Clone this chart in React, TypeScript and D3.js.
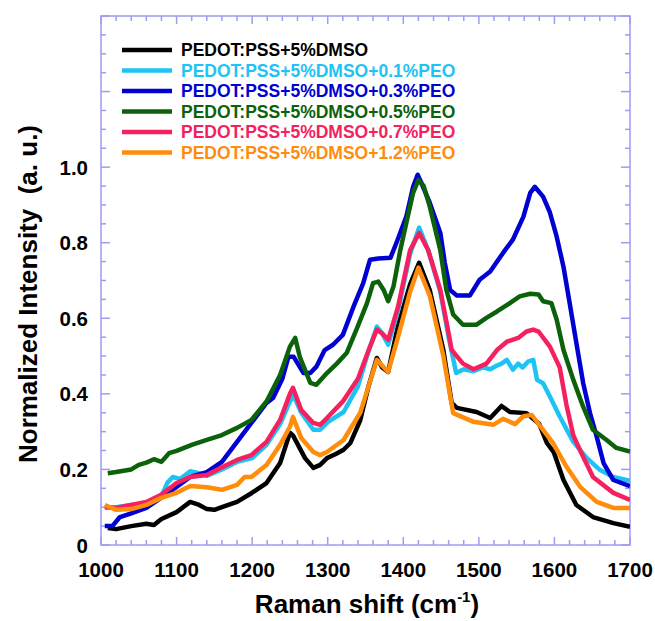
import React from "react";
import * as d3 from "d3";

// ---- data (Raman shift in cm^-1, normalized intensity) ----
const seriesNames = [
  "PEDOT:PSS+5%DMSO",
  "PEDOT:PSS+5%DMSO+0.1%PEO",
  "PEDOT:PSS+5%DMSO+0.3%PEO",
  "PEDOT:PSS+5%DMSO+0.5%PEO",
  "PEDOT:PSS+5%DMSO+0.7%PEO",
  "PEDOT:PSS+5%DMSO+1.2%PEO",
];
const seriesColors = ["#000000", "#1ec3f5", "#0000d2", "#0b620b", "#f5215e", "#ff8c0a"];

const blackX = [1009,1020,1040,1060,1070,1080,1100,1118,1130,1140,1150,1160,1180,1199,1219,1237,1250,1254,1270,1281,1290,1299,1310,1321,1330,1343,1354,1365,1372,1380,1393,1409,1421,1435,1453,1464,1471,1497,1515,1530,1541,1563,1580,1590,1599,1612,1629,1651,1678,1700];
const blackY = [0.045,0.042,0.05,0.056,0.053,0.069,0.087,0.114,0.106,0.095,0.093,0.1,0.114,0.137,0.164,0.217,0.297,0.29,0.23,0.204,0.212,0.23,0.24,0.252,0.27,0.33,0.42,0.495,0.47,0.458,0.58,0.69,0.747,0.675,0.516,0.376,0.363,0.352,0.336,0.368,0.352,0.349,0.32,0.27,0.246,0.172,0.106,0.074,0.058,0.048];

const cyanX = [1005,1020,1040,1060,1080,1088,1095,1105,1118,1130,1140,1160,1180,1200,1219,1237,1250,1255,1265,1281,1290,1300,1321,1340,1352,1365,1372,1380,1393,1409,1421,1433,1449,1460,1470,1480,1493,1505,1515,1524,1530,1537,1545,1552,1558,1565,1572,1577,1585,1594,1607,1625,1643,1660,1678,1700];
const cyanY = [0.1,0.1,0.106,0.11,0.13,0.165,0.18,0.175,0.195,0.19,0.183,0.2,0.22,0.23,0.265,0.32,0.38,0.395,0.35,0.305,0.305,0.325,0.352,0.42,0.5,0.578,0.56,0.53,0.62,0.77,0.84,0.78,0.67,0.55,0.455,0.465,0.46,0.47,0.465,0.475,0.48,0.49,0.464,0.48,0.47,0.485,0.49,0.437,0.428,0.393,0.34,0.273,0.23,0.199,0.18,0.17];

const blueX = [1005,1015,1025,1040,1060,1079,1100,1118,1140,1160,1180,1199,1219,1228,1240,1248,1255,1268,1277,1285,1296,1307,1320,1334,1347,1356,1367,1383,1391,1404,1413,1419,1424,1435,1449,1455,1462,1471,1488,1501,1515,1532,1545,1559,1568,1574,1585,1594,1603,1612,1621,1629,1638,1647,1656,1665,1678,1700];
const blueY = [0.05,0.05,0.074,0.084,0.098,0.124,0.154,0.18,0.193,0.22,0.273,0.323,0.376,0.39,0.44,0.498,0.498,0.455,0.455,0.472,0.516,0.53,0.556,0.63,0.693,0.755,0.758,0.76,0.8,0.869,0.948,0.98,0.958,0.906,0.826,0.746,0.675,0.66,0.66,0.702,0.724,0.773,0.808,0.869,0.932,0.948,0.922,0.88,0.816,0.736,0.63,0.535,0.429,0.35,0.286,0.217,0.172,0.156];

const greenX = [1009,1020,1040,1050,1060,1070,1080,1090,1100,1120,1140,1160,1180,1199,1219,1237,1250,1257,1263,1277,1285,1299,1312,1325,1338,1352,1360,1367,1374,1380,1387,1396,1404,1413,1420,1427,1435,1449,1457,1466,1479,1497,1510,1524,1541,1554,1568,1579,1585,1596,1603,1612,1625,1638,1651,1669,1682,1700];
const greenY = [0.19,0.193,0.2,0.212,0.218,0.227,0.22,0.243,0.249,0.265,0.278,0.291,0.31,0.331,0.38,0.45,0.525,0.548,0.498,0.429,0.424,0.455,0.48,0.508,0.57,0.64,0.693,0.697,0.675,0.645,0.684,0.78,0.852,0.932,0.966,0.95,0.896,0.78,0.675,0.61,0.583,0.583,0.601,0.618,0.64,0.658,0.665,0.663,0.645,0.64,0.596,0.516,0.437,0.366,0.305,0.278,0.257,0.247];

const pinkX = [1005,1020,1040,1060,1079,1100,1118,1140,1160,1180,1199,1219,1237,1250,1254,1265,1281,1290,1299,1320,1340,1355,1365,1372,1380,1393,1409,1421,1433,1449,1460,1464,1479,1493,1510,1524,1537,1552,1563,1572,1579,1594,1607,1616,1625,1634,1651,1678,1700];
const pinkY = [0.1,0.098,0.106,0.114,0.132,0.164,0.18,0.185,0.206,0.225,0.238,0.273,0.331,0.4,0.416,0.357,0.323,0.318,0.336,0.38,0.44,0.52,0.57,0.56,0.543,0.63,0.78,0.826,0.78,0.675,0.56,0.516,0.48,0.465,0.48,0.516,0.538,0.548,0.565,0.57,0.565,0.525,0.47,0.37,0.29,0.25,0.18,0.138,0.119];

const orangeX = [1005,1020,1040,1060,1079,1100,1118,1140,1160,1180,1190,1199,1219,1237,1250,1254,1265,1281,1290,1299,1321,1343,1354,1365,1372,1380,1393,1409,1420,1435,1453,1466,1493,1519,1532,1548,1559,1570,1598,1616,1634,1656,1678,1700];
const orangeY = [0.106,0.093,0.095,0.106,0.124,0.138,0.156,0.153,0.146,0.159,0.18,0.18,0.212,0.265,0.313,0.339,0.283,0.246,0.238,0.246,0.278,0.35,0.42,0.49,0.475,0.458,0.55,0.67,0.734,0.66,0.5,0.349,0.326,0.318,0.334,0.32,0.341,0.344,0.27,0.207,0.154,0.114,0.098,0.098];

const seriesX = [blackX, cyanX, blueX, greenX, pinkX, orangeX];
const seriesY = [blackY, cyanY, blueY, greenY, pinkY, orangeY];

const xTickValues = [1000, 1100, 1200, 1300, 1400, 1500, 1600, 1700];
const yTickValues = [0, 0.2, 0.4, 0.6, 0.8, 1.0];
const yTickLabels = ["0", "0.2", "0.4", "0.6", "0.8", "1.0"];

const W = 655, H = 621;
const M = { left: 101, right: 630, top: 16, bottom: 545 };
const AX = "#9c9cf0";
const FONT = "'Liberation Sans', Arial, Helvetica, sans-serif";

export default function App() {
  const x = d3.scaleLinear().domain([1000, 1700]).range([M.left, M.right]);
  const y = d3.scaleLinear().domain([0, 1.4]).range([M.bottom, M.top]);
  const line = d3.line<[number, number]>().x(d => x(d[0])).y(d => y(d[1])).curve(d3.curveLinear);

  const xMinor = d3.range(1000, 1701, 20);
  const yMinor = d3.range(0, 1.4001, 0.05);

  return (
    <svg width={W} height={H} style={{ position: "absolute", left: 0, top: 0, background: "#fff" }} fontFamily={FONT}>
      {/* axis frame */}
      <rect x={M.left} y={M.top} width={M.right - M.left} height={M.bottom - M.top} fill="none" stroke={AX} strokeWidth={1.5} />
      {xMinor.map(v => {
        const major = v % 100 === 0;
        const len = major ? 8 : 5;
        return (
          <g key={"xt" + v}>
            <line x1={x(v)} x2={x(v)} y1={M.bottom} y2={M.bottom - len} stroke={AX} strokeWidth={1.5} />
            <line x1={x(v)} x2={x(v)} y1={M.top} y2={M.top + len} stroke={AX} strokeWidth={1.5} />
          </g>
        );
      })}
      {yMinor.map((v, i) => {
        const major = i % 4 === 0;
        const len = major ? 9 : 5;
        return (
          <g key={"yt" + i}>
            <line x1={M.left} x2={M.left + len} y1={y(v)} y2={y(v)} stroke={AX} strokeWidth={1.5} />
            <line x1={M.right} x2={M.right - len} y1={y(v)} y2={y(v)} stroke={AX} strokeWidth={1.5} />
          </g>
        );
      })}
      {/* tick labels */}
      {xTickValues.map(v => (
        <text key={"xl" + v} x={x(v)} y={577} textAnchor="middle" fontSize={20.5} fontWeight="bold" fill="#000">{v}</text>
      ))}
      {yTickValues.map((v, i) => (
        <text key={"yl" + i} x={88} y={y(v) + 7.5} textAnchor="end" fontSize={20.5} fontWeight="bold" fill="#000">{yTickLabels[i]}</text>
      ))}
      {/* axis titles */}
      <text x={367} y={613} textAnchor="middle" fontSize={26} fontWeight="bold" fill="#000">
        Raman shift (cm<tspan fontSize={15} dy={-11}>-1</tspan><tspan dy={11}>)</tspan>
      </text>
      <text transform={`translate(37,294) rotate(-90)`} textAnchor="middle" fontSize={26} fontWeight="bold" fill="#000" style={{ whiteSpace: "pre" }}>
        {"Normalized Intensity  (a. u.)"}
      </text>
      {/* curves */}
      <g clipPath="url(#plotclip)">
        {seriesNames.map((name, si) => {
          const pts: [number, number][] = seriesX[si].map((xv, j) => [xv, seriesY[si][j]]);
          return <path key={name} d={line(pts) || ""} fill="none" stroke={seriesColors[si]} strokeWidth={4.5} strokeLinejoin="round" strokeLinecap="butt" />;
        })}
      </g>
      <defs>
        <clipPath id="plotclip">
          <rect x={M.left} y={M.top} width={M.right - M.left} height={M.bottom - M.top} />
        </clipPath>
      </defs>
      {/* legend */}
      {seriesNames.map((name, si) => {
        const ly = 50 + si * 20.5;
        return (
          <g key={"lg" + si}>
            <line x1={122} x2={172} y1={ly} y2={ly} stroke={seriesColors[si]} strokeWidth={4.5} />
            <text x={181} y={ly + 6} fontSize={17.5} fontWeight="bold" fill={seriesColors[si]}>{name}</text>
          </g>
        );
      })}
    </svg>
  );
}
